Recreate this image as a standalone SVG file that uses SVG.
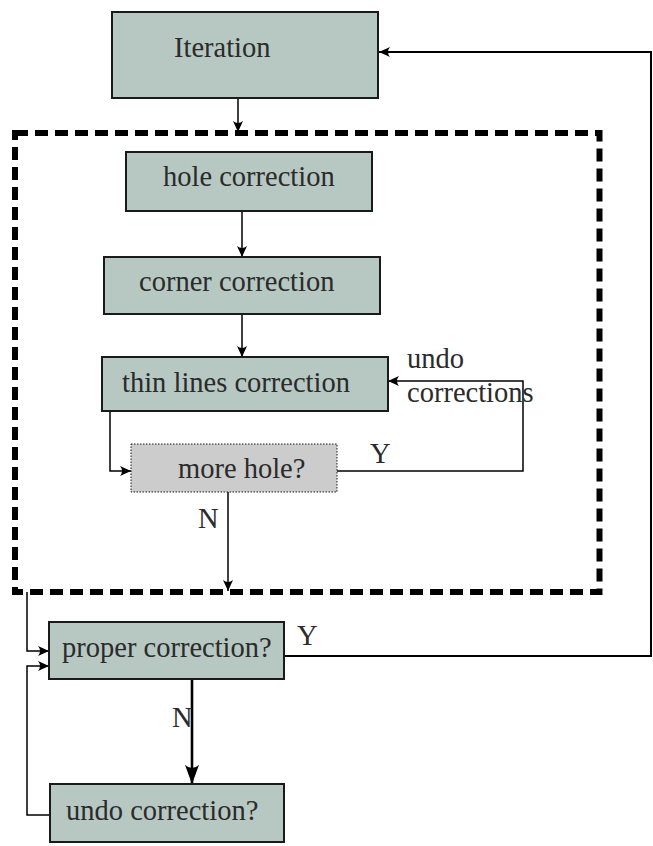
<svg xmlns="http://www.w3.org/2000/svg" width="653" height="846" viewBox="0 0 653 846">
<defs>
<style>
.box{fill:#b7c8c3;stroke:#1a1a1a;stroke-width:2}
.dot{fill:#cccccc;stroke:#1a1a1a;stroke-width:1;stroke-dasharray:1.5 1.5}
.t{font-family:"Liberation Serif","DejaVu Serif",serif;font-size:28.5px;fill:#2b2b2b}
.c{fill:none;stroke:#000;stroke-width:1.5}
.ct{fill:none;stroke:#000;stroke-width:2}
.ck{fill:none;stroke:#000;stroke-width:2.6}
.dash{fill:none;stroke:#000;stroke-width:6;stroke-dasharray:13 7}
</style>
<marker id="a" markerUnits="userSpaceOnUse" markerWidth="14" markerHeight="12" refX="12" refY="6" orient="auto">
<path d="M12,6 L1,1 Q5,6 1,11 Z" fill="#000"/>
</marker>
<marker id="ab" markerUnits="userSpaceOnUse" markerWidth="22" markerHeight="16" refX="20" refY="8" orient="auto">
<path d="M20,8 L1,1 Q7,8 1,15 Z" fill="#000"/>
</marker>
</defs>
<g id="container">
<rect class="dash" x="15" y="133" width="584.5" height="459"/>
</g>
<g id="connectors">
<line class="c" x1="238" y1="98" x2="238" y2="132" marker-end="url(#a)"/>
<line class="c" x1="242" y1="212" x2="242" y2="257" marker-end="url(#a)"/>
<line class="c" x1="242" y1="315" x2="242" y2="357" marker-end="url(#a)"/>
<polyline class="c" points="110,411 110,471 131,471" marker-end="url(#a)"/>
<polyline class="c" points="337,471 523,471 523,381 388,381" marker-end="url(#a)"/>
<line class="c" x1="228" y1="492" x2="228" y2="591" marker-end="url(#a)"/>
<polyline class="c" points="27,592 27,651 49,651" marker-end="url(#a)"/>
<polyline class="c" points="49,815 27,815 27,666 49,666" marker-end="url(#a)"/>
<polyline class="ct" points="284,656 651,656 651,52 379,52" marker-end="url(#a)"/>
<line class="ck" x1="192" y1="679" x2="192" y2="784" marker-end="url(#ab)"/>
<text class="t" x="407" y="368">undo</text>
<text class="t" x="407" y="402">corrections</text>
<text class="t" x="370" y="463">Y</text>
<text class="t" x="198" y="528">N</text>
<text class="t" x="297" y="645">Y</text>
<text class="t" x="172" y="727">N</text>
</g>
<g id="iteration">
<rect class="box" x="112" y="12" width="266" height="86"/>
<text class="t" x="174" y="57">Iteration</text>
</g>
<g id="hole-correction">
<rect class="box" x="126" y="152" width="246" height="59"/>
<text class="t" x="163" y="186">hole correction</text>
</g>
<g id="corner-correction">
<rect class="box" x="104" y="257" width="276" height="57"/>
<text class="t" x="139" y="291">corner correction</text>
</g>
<g id="thin-lines-correction">
<rect class="box" x="102" y="357" width="286" height="54"/>
<text class="t" x="122" y="392">thin lines correction</text>
</g>
<g id="more-hole">
<rect class="dot" x="131" y="444" width="206" height="48"/>
<text class="t" x="178" y="478">more hole?</text>
</g>
<g id="proper-correction">
<rect class="box" x="49" y="622" width="235" height="57"/>
<text class="t" x="62" y="657">proper correction?</text>
</g>
<g id="undo-correction">
<rect class="box" x="50" y="784" width="234" height="58"/>
<text class="t" x="66" y="820">undo correction?</text>
</g>
</svg>
